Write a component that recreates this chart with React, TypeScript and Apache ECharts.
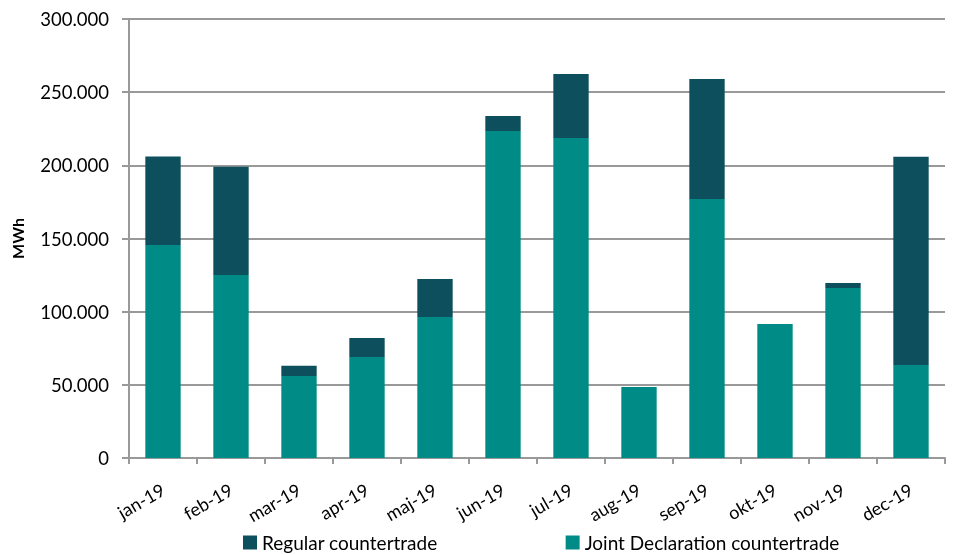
import React, { useEffect, useRef } from "react";
import * as echarts from "echarts";

const categories = ["jan-19", "feb-19", "mar-19", "apr-19", "maj-19", "jun-19", "jul-19", "aug-19", "sep-19", "okt-19", "nov-19", "dec-19"];
const jointDeclaration = [145500, 125000, 56000, 69000, 96400, 223500, 218700, 48500, 177000, 91600, 116200, 63600];
const regular = [60500, 74000, 7000, 13000, 26000, 10200, 43700, 0, 82000, 0, 3400, 142300];
const yTicks = { min: 0, max: 300000, interval: 50000 };

const fmt = (v: number) => {
  if (v === 0) return "0";
  const s = String(Math.round(v));
  return s.replace(/\B(?=(\d{3})+(?!\d))/g, ".");
};

export default function App() {
  const ref = useRef<HTMLDivElement>(null);
  useEffect(() => {
    if (!ref.current) return;
    const chart = echarts.init(ref.current, undefined, { renderer: "svg" });
    const font = "Lato, 'Open Sans', sans-serif";
    chart.setOption({
      animation: false,
      textStyle: { fontFamily: font },
      grid: { left: 129, right: 20, top: 19, bottom: 97, containLabel: false },
      legend: {
        top: 528,
        left: 238,
        itemWidth: 14,
        itemHeight: 14,
        icon: "rect",
        itemGap: 128,
        textStyle: { fontSize: 19, color: "#000", fontFamily: font },
        data: ["Regular countertrade", "Joint Declaration countertrade"],
      },
      xAxis: {
        type: "category",
        data: categories,
        axisLine: { lineStyle: { color: "#999", width: 2 } },
        axisTick: { show: true, length: 6, lineStyle: { color: "#999", width: 2 } },
        axisLabel: { rotate: 30, fontSize: 18, color: "#000", margin: 30, fontFamily: font },
      },
      yAxis: {
        type: "value",
        min: yTicks.min,
        max: yTicks.max,
        interval: yTicks.interval,
        name: "MWh",
        nameLocation: "middle",
        nameGap: 104,
        nameTextStyle: { fontSize: 16, fontWeight: "bold", color: "#000", fontFamily: font },
        axisLine: { show: true, lineStyle: { color: "#999", width: 2 } },
        axisTick: { show: true, inside: false, length: 7, lineStyle: { color: "#999", width: 2 } },
        axisLabel: { formatter: fmt, fontSize: 18.5, color: "#000", margin: 20, fontFamily: font },
        splitLine: { show: true, lineStyle: { color: "#999", width: 2 } },
      },
      series: [
        {
          name: "Joint Declaration countertrade",
          type: "bar",
          stack: "total",
          data: jointDeclaration,
          barWidth: "52%",
          itemStyle: { color: "#008b87" },
        },
        {
          name: "Regular countertrade",
          type: "bar",
          stack: "total",
          data: regular,
          barWidth: "52%",
          itemStyle: { color: "#0d4f5c" },
        },
      ],
    });
    return () => chart.dispose();
  }, []);
  return <div ref={ref} style={{ position: "fixed", top: 0, left: 0, width: 965, height: 555 }} />;
}
